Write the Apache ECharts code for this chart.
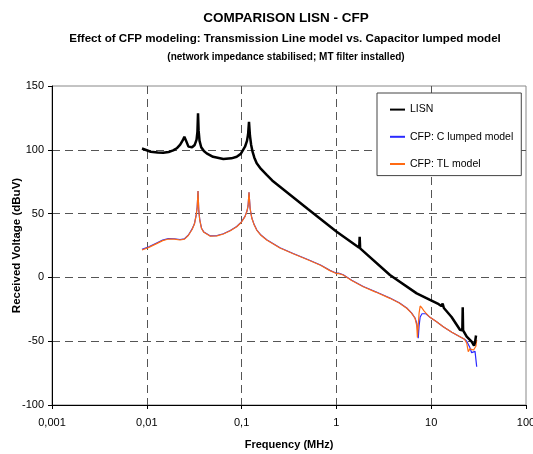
<!DOCTYPE html>
<html>
<head>
<meta charset="utf-8">
<script src="https://cdn.jsdelivr.net/npm/echarts@6/dist/echarts.min.js"></script>
<style>html,body{margin:0;padding:0;background:#fff;}#c{width:533px;height:454px;}</style>
</head>
<body>
<div id="c"></div>
<script>
// ---- data ----
var seriesNames = ['LISN', 'CFP: C lumped model', 'CFP: TL model'];
var xTicks = ['0,001', '0,01', '0,1', '1', '10', '100'];
var yTicks = [-100, -50, 0, 50, 100, 150];

var freqLISN = [0.0089, 0.0091, 0.0110, 0.0130, 0.0149, 0.0170, 0.0190, 0.0207, 0.0225, 0.0240, 0.0249, 0.0260, 0.0275, 0.0286, 0.0300, 0.0320, 0.0335, 0.0342, 0.0347, 0.0352, 0.0360, 0.0375, 0.0400, 0.0428, 0.0500, 0.0642, 0.0780, 0.0888, 0.0980, 0.1086, 0.1140, 0.1170, 0.1197, 0.1225, 0.1260, 0.1300, 0.1360, 0.1443, 0.1600, 0.1840, 0.2100, 0.2540, 0.5000, 1.0070, 1.7400, 1.7600, 1.7800, 3.6700, 7.0300, 9.7100, 12.000, 12.800, 13.200, 13.600, 16.400, 20.100, 21.300, 21.500, 21.700, 23.700, 26.700, 28.300, 29.000, 29.700];
var valLISN = [101, 99.5, 98.5, 97.8, 97.7, 98.3, 99.5, 101.2, 104, 107.5, 110.3, 107, 102.5, 101.2, 102, 103.8, 108, 114, 128.6, 115, 107, 102, 99, 97.2, 94.5, 92.8, 93.3, 94.6, 96.8, 102.4, 107, 112, 122, 111, 104, 99, 94, 89.4, 85, 80.3, 76, 71.1, 53.6, 35.8, 23.2, 31.9, 22.8, 1.9, -12.5, -17.7, -21, -22.5, -20.5, -24, -31, -41, -41.5, -23.4, -41.5, -46.5, -50.4, -53.5, -51, -45.5];

var freqCFP = [0.0089, 0.0105, 0.0127, 0.0147, 0.0169, 0.0195, 0.0224, 0.0250, 0.0275, 0.0300, 0.0318, 0.0332, 0.0340, 0.0347, 0.0353, 0.0362, 0.0378, 0.0400, 0.0464, 0.0550, 0.0642, 0.0760, 0.0888, 0.0990, 0.1086, 0.1140, 0.1170, 0.1197, 0.1230, 0.1280, 0.1360, 0.1443, 0.1600, 0.1840, 0.2540, 0.3500, 0.5060, 0.6800, 0.8550, 1.0000, 1.0500, 1.1800, 1.4500, 1.9200, 2.6000, 3.6700, 4.6000, 5.5200, 6.2000, 6.7500, 7.0500, 7.1500, 7.3000, 7.4500, 7.6500, 8.0000, 8.3500, 8.8000, 9.7100, 11.500, 13.400, 16.500, 20.100, 22.500, 23.700, 24.600, 25.600, 26.700, 28.000, 29.000, 29.600, 30.200];
var valCLumped = [22, 24, 27, 29.2, 30.5, 30.3, 29.7, 30.3, 33.2, 37.8, 42, 49, 55, 67.7, 53, 45, 38.5, 35.5, 32.6, 32.8, 34.2, 36.7, 39.9, 43.2, 47.8, 52, 56, 66.7, 54, 46.7, 41.2, 37.3, 33.2, 29.5, 23.2, 18.7, 13.8, 9.7, 5.5, 3.2, 3.4, 2.1, -2.3, -7.1, -11.3, -16.2, -19.8, -24, -27.8, -31.8, -36, -40, -47.7, -38, -31, -28.5, -27.7, -28.5, -31.3, -35, -38.6, -43, -46.5, -48.5, -50, -51.5, -55, -59, -60, -58, -57, -70];
var valTL = [21.5, 23.5, 26.5, 28.8, 30.1, 30.0, 29.3, 30.0, 33.0, 37.5, 41.8, 48.8, 55, 67.7, 53, 44.8, 38.3, 35.3, 32.4, 32.6, 34.0, 36.5, 39.7, 43, 47.6, 52, 56, 66.7, 54, 46.5, 41, 37.1, 33, 29.3, 23, 18.5, 13.6, 9.5, 5.3, 3, 3.2, 1.9, -2.5, -7.3, -11.5, -16.4, -20, -24.2, -28, -32, -38, -47, -38, -28, -22.4, -24, -26, -28, -31.3, -35, -38.6, -43, -46.5, -48.5, -51.6, -58.2, -56, -54.8, -56.9, -56, -54, -49];

function pairs(xs, ys) { return xs.map(function (x, i) { return [x, ys[i]]; }); }

var BLUE = '#2a2aff', ORANGE = '#ff6a13';
var chart = echarts.init(document.getElementById('c'), null, { renderer: 'canvas' });
var FONT = 'Liberation Sans, Arial, sans-serif';
var gridLine = { show: true, showMinLine: false, showMaxLine: false, lineStyle: { color: '#555', type: [8, 5], width: 1 } };

chart.setOption({
  animation: false,
  backgroundColor: '#fff',
  title: [
    { text: 'COMPARISON LISN - CFP', left: 281, top: 6, textAlign: 'center',
      textStyle: { fontFamily: FONT, fontSize: 13.5, fontWeight: 'bold', color: '#000' } },
    { text: 'Effect of CFP modeling: Transmission Line model vs. Capacitor lumped model', left: 280, top: 28, textAlign: 'center',
      textStyle: { fontFamily: FONT, fontSize: 11.6, fontWeight: 'bold', color: '#000' } },
    { text: '(network impedance stabilised; MT filter installed)', left: 281, top: 47, textAlign: 'center',
      textStyle: { fontFamily: FONT, fontSize: 10, fontWeight: 'bold', color: '#000' } }
  ],
  grid: { left: 52, right: 7, top: 86, bottom: 49, show: true, borderColor: '#888', borderWidth: 1,
          containLabel: false, outerBoundsMode: 'none' },
  legend: {
    orient: 'vertical', left: 377, top: 93,
    padding: [11, 8, 6, 12], itemGap: 16, itemWidth: 15, itemHeight: 14,
    borderColor: '#444', borderWidth: 1, backgroundColor: '#fff',
    itemStyle: { opacity: 0 },
    textStyle: { fontFamily: FONT, fontSize: 10.5, color: '#000' },
    data: seriesNames
  },
  xAxis: {
    type: 'log', logBase: 10, min: 0.001, max: 100,
    name: 'Frequency (MHz)', nameLocation: 'middle', nameGap: 34, nameMoveOverlap: false,
    nameTextStyle: { fontFamily: FONT, fontSize: 11, fontWeight: 'bold', color: '#000' },
    axisLine: { show: true, onZero: false, lineStyle: { color: '#000', width: 1 } },
    axisTick: { show: true, inside: false, length: 4, lineStyle: { color: '#000' } },
    minorTick: { show: false },
    axisLabel: {
      margin: 12, fontFamily: FONT, fontSize: 11, color: '#000',
      formatter: function (v) {
        var e = Math.round(Math.log10(v));
        return xTicks[e + 3];
      }
    },
    splitLine: gridLine
  },
  yAxis: {
    type: 'value', min: yTicks[0], max: yTicks[yTicks.length - 1], interval: 50,
    name: 'Received Voltage (dBuV)', nameLocation: 'middle', nameGap: 29, nameRotate: 90, nameMoveOverlap: false,
    nameTextStyle: { fontFamily: FONT, fontSize: 11.5, fontWeight: 'bold', color: '#000' },
    axisLine: { show: true, onZero: false, lineStyle: { color: '#000', width: 1 } },
    axisTick: { show: true, inside: false, length: 4, lineStyle: { color: '#000' } },
    axisLabel: { margin: 8, fontFamily: FONT, fontSize: 11, color: '#000' },
    splitLine: gridLine
  },
  series: [
    { name: seriesNames[0], type: 'line', data: pairs(freqLISN, valLISN), showSymbol: false, symbol: 'none',
      lineStyle: { color: '#000', width: 2.5 }, itemStyle: { color: '#000' }, z: 3 },
    { name: seriesNames[1], type: 'line', data: pairs(freqCFP, valCLumped), showSymbol: false, symbol: 'none',
      lineStyle: { color: BLUE, width: 1.2 }, itemStyle: { color: BLUE }, z: 2 },
    { name: seriesNames[2], type: 'line', data: pairs(freqCFP, valTL), showSymbol: false, symbol: 'none',
      lineStyle: { color: ORANGE, width: 1.2 }, itemStyle: { color: ORANGE }, z: 2 }
  ]
});
</script>
</body>
</html>
